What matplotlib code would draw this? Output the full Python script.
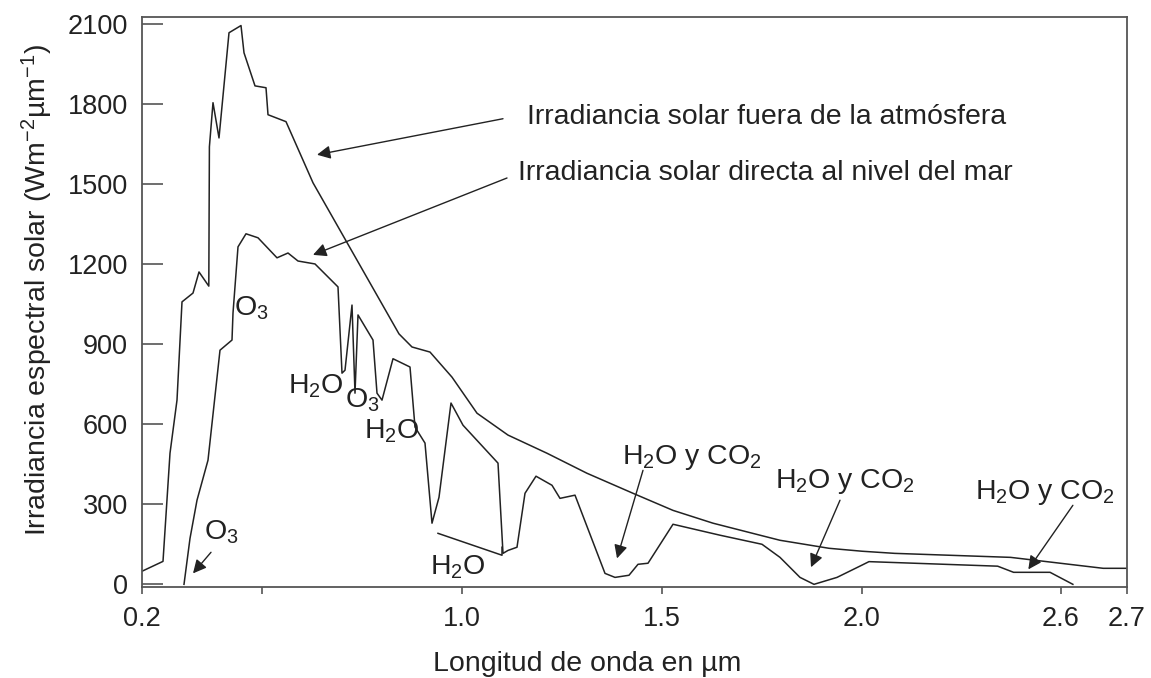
import numpy as np
import matplotlib
matplotlib.use("Agg")
import matplotlib.pyplot as plt

plt.rcParams["font.family"] = ["Liberation Sans", "DejaVu Sans"]
plt.rcParams["mathtext.fontset"] = "custom"
plt.rcParams["mathtext.rm"] = "Liberation Sans"
plt.rcParams["mathtext.it"] = "Liberation Sans:italic"
plt.rcParams["mathtext.default"] = "regular"

# irradiancia fuera de la atmósfera (µm, W m-2 µm-1)
outer_um = [0.2, 0.2525, 0.27, 0.2875, 0.30, 0.3275, 0.3425, 0.367, 0.3685, 0.3775,
            0.3925, 0.4175, 0.4475, 0.455, 0.4825, 0.51, 0.515, 0.56, 0.6275, 0.8425,
            0.875, 0.92, 0.975, 1.0375, 1.115, 1.2125, 1.3125, 1.4275, 1.5275, 1.6275,
            1.745, 1.795, 1.9175, 2.0, 2.0985, 2.448, 2.664, 2.7]
outer_w = [49, 86, 491, 690, 1058, 1091, 1170, 1117, 1639, 1804,
           1672, 2066, 2093, 1991, 1867, 1860, 1759, 1733, 1504, 938,
           889, 870, 776, 641, 559, 491, 416, 341, 277, 229,
           184, 165, 135, 124, 116, 101, 60, 60]

# irradiancia directa al nivel del mar
inner_um = [0.305, 0.32, 0.3375, 0.365, 0.395, 0.425, 0.4275, 0.44, 0.46, 0.49,
            0.5375, 0.565, 0.59, 0.6325, 0.69, 0.70, 0.7075, 0.725, 0.7325, 0.74,
            0.7775, 0.7875, 0.80, 0.8275, 0.87, 0.8825, 0.9075, 0.925, 0.9425, 0.9725,
            1.0025, 1.09, 1.1025, 1.115, 1.1375, 1.1575, 1.185, 1.225, 1.245, 1.2825,
            1.3575, 1.3825, 1.4175, 1.44, 1.465, 1.5275, 1.645, 1.75, 1.795, 1.845,
            1.88, 1.9375, 2.0, 2.021, 2.409, 2.457, 2.567, 2.618]
inner_w = [0, 172, 315, 465, 877, 915, 1016, 1264, 1313, 1298,
           1223, 1241, 1211, 1200, 1114, 791, 802, 1046, 716, 1009,
           915, 716, 690, 845, 814, 589, 529, 229, 326, 679,
           596, 454, 116, 127, 139, 341, 405, 371, 322, 334,
           41, 26, 34, 75, 79, 225, 184, 150, 101, 26,
           0, 26, 72, 85, 68, 45, 45, 0]

# tramo suelto de la banda de H2O
band_um = [0.94, 1.1, 1.1]
band_w = [191, 109, 139]

xticks = [0.2, 0.5, 1.0, 1.5, 2.0, 2.6, 2.7]
xticklabels = ["0.2", "", "1.0", "1.5", "2.0", "2.6", "2.7"]
yticks = [0, 300, 600, 900, 1200, 1500, 1800, 2100]

# eje x no lineal por encima de 2.0 µm
brk_src = [0.0, 0.2, 2.0, 2.6, 2.7, 3.0]
brk_dst = [0.0, 0.2, 2.0, 2.4975, 2.6625, 3.1575]


def fwd(x):
    return np.interp(x, brk_src, brk_dst)


def inv(y):
    return np.interp(y, brk_dst, brk_src)


ink = "#222222"
fs = 20.5
fig = plt.figure(figsize=(11.51, 6.78), dpi=100)
ax = fig.add_axes([142 / 1151, 1 - 587 / 678, (1127 - 142) / 1151, (587 - 17) / 678])
ax.set_xscale("function", functions=(fwd, inv))
ax.set_xlim(0.2, 2.7)
ax.set_ylim(-10, 2125)

ax.plot(outer_um, outer_w, color=ink, lw=1.1)
ax.plot(inner_um, inner_w, color=ink, lw=1.1)
ax.plot(band_um, band_w, color=ink, lw=1.1)

ax.set_xticks(xticks)
ax.set_xticklabels(xticklabels)
ax.set_yticks(yticks)
ax.tick_params(axis="y", direction="in", length=15, width=1.2, pad=10,
               labelsize=19.5, colors="#555555", labelcolor=ink)
ax.tick_params(axis="x", direction="out", length=5, width=1.2, pad=9,
               labelsize=19.5, colors="#555555", labelcolor=ink)
for s in ax.spines.values():
    s.set_color("#555555")
    s.set_linewidth(1.3)

ax.set_xlabel("Longitud de onda en µm", fontsize=fs, color=ink)
ax.xaxis.set_label_coords(0.452, -0.112)
ax.set_ylabel("Irradiancia espectral solar (Wm$^{-2}$µm$^{-1}$)", fontsize=fs, color=ink)
ax.yaxis.set_label_coords(-0.088, 0.52)

arrow = dict(arrowstyle="-|>", color=ink, lw=1.0, mutation_scale=20,
             shrinkA=0, shrinkB=0)

ax.text(1.1625, 1751, "Irradiancia solar fuera de la atmósfera", fontsize=fs,
        color=ink, ha="left", va="center")
ax.annotate("", xy=(0.6375, 1609), xytext=(1.1025, 1744), arrowprops=arrow)
ax.text(1.14, 1541, "Irradiancia solar directa al nivel del mar", fontsize=fs,
        color=ink, ha="left", va="center")
ax.annotate("", xy=(0.6275, 1234), xytext=(1.1125, 1522), arrowprops=arrow)

labels = [
    ("O$_3$", 0.4725, 1035),
    ("O$_3$", 0.3975, 195),
    ("H$_2$O", 0.635, 742),
    ("O$_3$", 0.75, 690),
    ("H$_2$O", 0.825, 574),
    ("H$_2$O", 0.99, 64),
    ("H$_2$O y CO$_2$", 1.575, 476),
    ("H$_2$O y CO$_2$", 1.9575, 386),
    ("H$_2$O y CO$_2$", 2.552, 345),
]
for txt, x, y in labels:
    ax.text(x, y, txt, fontsize=fs, color=ink, ha="center", va="center")

ax.annotate("", xy=(0.3275, 41), xytext=(0.3725, 120), arrowprops=arrow)
ax.annotate("", xy=(1.3875, 97), xytext=(1.4525, 427), arrowprops=arrow)
ax.annotate("", xy=(1.8725, 64), xytext=(1.945, 315), arrowprops=arrow)
ax.annotate("", xy=(2.5015, 56), xytext=(2.618, 296), arrowprops=arrow)

fig.savefig("out.png", dpi=100)
